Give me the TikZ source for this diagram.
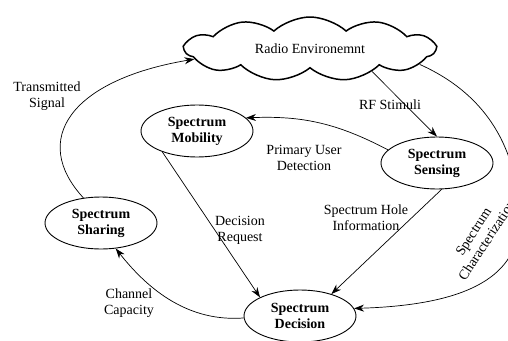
\documentclass[tikz,border=0pt]{standalone}
\usepackage{fontspec}
\setmainfont{Liberation Serif}
\usetikzlibrary{shapes.geometric,shapes.symbols,arrows.meta}
\begin{document}
\begin{tikzpicture}[x=1pt,y=-1pt]
\useasboundingbox (0,0) rectangle (508,340);
\coordinate (P_RE) at (310,49);
\coordinate (P_SS) at (437,163);
\coordinate (P_SM) at (197,131);
\coordinate (P_SD) at (300,316);
\coordinate (P_SH) at (101,223);
\coordinate (P_SC) at (519,220);


\tikzset{CloudStyle/.style = {
 draw, line width = 1.5pt, cloud, cloud puffs = 11, cloud puff arc = 85,
 cloud ignores aspect, minimum width = 250pt, minimum height = 64pt,
 font = \fontsize{14}{16}\selectfont} }

\tikzset{StateStyle/.style = {
 draw, line width = 0.9pt, ellipse, align = center,
 inner sep = 0pt, minimum width = 112pt, minimum height = 52pt,
 font = \fontsize{14}{16}\selectfont\bfseries} }

\node[CloudStyle] (RE) at (P_RE) {Radio Environemnt};
\node[StateStyle] (SS) at (P_SS) {Spectrum\\Sensing};
\node[StateStyle] (SM) at (P_SM) {Spectrum\\Mobility};
\node[StateStyle] (SD) at (P_SD) {Spectrum\\Decision};
\node[StateStyle] (SH) at (P_SH) {Spectrum\\Sharing};


\tikzset{EdgeStyle/.style = {line width = 0.7pt, -{Stealth[length=10pt, width=7pt]}} }

\draw[EdgeStyle] (RE.-20) -- (SS.north);
\draw[EdgeStyle] (SS.165) to[bend right=15] (SM.15);
\draw[EdgeStyle] (SM.211) -- (SD.155);
\draw[EdgeStyle] (SS.-80) -- (SD.35);
\draw[EdgeStyle] (RE.-8) .. controls (495,98) and (519,160) .. (P_SC)
 .. controls (519,275) and (470,305) .. (SD.8);
\draw[EdgeStyle] (SD.182) .. controls (190,322) and (150,292) .. (SH.-60);
\draw[EdgeStyle] (SH.125) .. controls (30,140) and (70,80) .. (RE.185);


\tikzset{LabelStyle/.style = {
 align = center, inner sep = 1pt,
 font = \fontsize{14}{16}\selectfont} }

\node[LabelStyle] (L_RF) at (390,105) {RF Stimuli};
\node[LabelStyle] (L_PU) at (304,158) {Primary User\\Detection};
\node[LabelStyle] (L_DR) at (240,230) {Decision\\Request};
\node[LabelStyle] (L_SH) at (366,218) {Spectrum Hole\\Information};
\node[LabelStyle, rotate=57] (L_SC) at (480,236) {Spectrum\\Characterization};
\node[LabelStyle] (L_CC) at (129,303) {Channel\\Capacity};
\node[LabelStyle] (L_TS) at (47,96) {Transmitted\\Signal};

\end{tikzpicture}
\end{document}
